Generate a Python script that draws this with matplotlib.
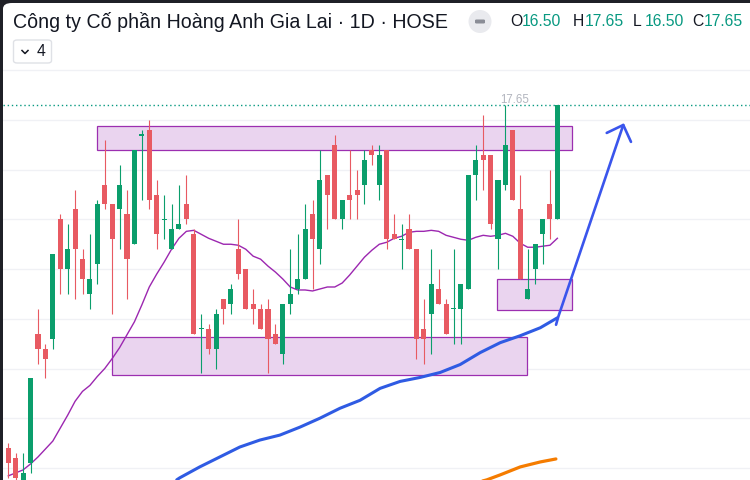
"""
Candlestick chart: Công ty Cổ phần Hoàng Anh Gia Lai (HAG), daily, with
moving averages and drawn support / resistance zones.
"""
import numpy as np
import matplotlib
matplotlib.use('Agg')
import matplotlib.pyplot as plt
from matplotlib.patches import Rectangle, FancyBboxPatch, Ellipse

plt.rcParams['font.family'] = ['Liberation Sans', 'DejaVu Sans']

# ====== Data (prices, 1D candles) ======
OPENS = [14.20, 14.10, 13.85, 14.05, 15.35, 15.20, 15.30, 16.50, 16.00, 16.60,
         16.10, 15.75, 16.05, 16.85, 16.65, 16.60, 16.55, 16.25, 17.35, 17.40,
         16.75, 16.50, 16.20, 16.40, 16.65, 16.35, 15.40, 15.40, 15.20, 15.70,
         15.65, 16.20, 16.00, 15.65, 15.60, 15.60, 15.35, 15.15, 15.65, 15.80,
         15.90, 16.55, 16.20, 16.95, 17.25, 16.50, 16.75, 16.80, 16.85, 17.20,
         16.85, 17.20, 16.35, 16.30, 16.40, 16.20, 15.40, 15.55, 15.80, 15.65,
         15.60, 15.60, 15.80, 16.95, 17.15, 17.15, 16.30, 16.85, 17.40, 16.60,
         15.70, 16.00, 16.35, 16.65, 16.50]
HIGHS = [14.25, 14.15, 14.15, 14.90, 15.60, 15.25, 16.15, 16.55, 16.45, 16.80,
         16.20, 16.35, 16.70, 17.30, 16.65, 17.05, 16.80, 17.20, 17.40, 17.50,
         16.90, 16.75, 16.65, 16.85, 16.95, 16.40, 15.55, 15.45, 15.60, 15.70,
         15.85, 16.50, 16.00, 15.80, 15.65, 15.70, 15.45, 15.65, 16.20, 16.35,
         16.65, 16.70, 17.20, 16.95, 17.35, 16.70, 17.20, 17.00, 17.20, 17.25,
         17.25, 17.20, 16.55, 16.45, 16.55, 16.20, 15.70, 16.20, 16.00, 15.70,
         16.20, 15.85, 16.95, 17.25, 17.55, 17.15, 16.90, 17.65, 17.40, 16.95,
         16.20, 16.25, 16.50, 17.00, 17.65]
LOWS = [13.90, 13.85, 13.80, 13.95, 15.05, 14.90, 15.20, 15.75, 15.75, 15.70,
        15.75, 15.60, 15.85, 16.60, 15.55, 16.20, 15.70, 16.25, 16.70, 16.60,
        16.20, 16.30, 16.20, 16.40, 16.45, 15.35, 14.95, 15.15, 15.00, 15.45,
        15.55, 15.90, 15.60, 15.45, 15.40, 14.95, 15.25, 15.05, 15.55, 15.75,
        15.90, 15.80, 16.05, 16.40, 16.50, 16.40, 16.50, 16.50, 16.65, 17.05,
        16.70, 16.20, 16.30, 16.00, 16.20, 15.10, 15.05, 15.15, 15.65, 15.35,
        15.25, 15.25, 15.80, 16.70, 16.80, 16.40, 16.00, 16.80, 16.70, 15.90,
        15.70, 15.85, 16.05, 16.30, 16.50]
CLOSES = [14.05, 13.90, 13.95, 14.90, 15.20, 15.10, 16.15, 16.00, 16.20, 16.20,
          15.90, 15.90, 16.65, 16.65, 16.30, 16.85, 16.10, 17.20, 17.35, 16.70,
          16.35, 16.50, 16.40, 16.45, 16.50, 15.35, 15.40, 15.20, 15.55, 15.60,
          15.80, 15.95, 15.60, 15.60, 15.40, 15.30, 15.25, 15.65, 15.75, 15.90,
          16.40, 16.30, 16.90, 16.75, 16.50, 16.70, 16.70, 16.75, 17.10, 17.15,
          17.15, 16.30, 16.30, 16.30, 16.20, 15.30, 15.30, 15.85, 15.65, 15.35,
          15.60, 15.85, 16.95, 17.10, 17.10, 16.45, 16.90, 17.25, 16.70, 15.90,
          15.80, 16.25, 16.50, 16.50, 17.65]

# short moving average (purple), one value per candle
MA_SHORT = [13.92, 13.95, 13.98, 14.04, 14.11, 14.19, 14.27, 14.40, 14.53, 14.67,
            14.77, 14.83, 14.92, 15.00, 15.10, 15.21, 15.34, 15.47, 15.64, 15.82,
            15.95, 16.07, 16.20, 16.31, 16.38, 16.39, 16.35, 16.31, 16.28, 16.25,
            16.25, 16.24, 16.20, 16.13, 16.10, 16.03, 15.97, 15.90, 15.82, 15.79,
            15.79, 15.78, 15.80, 15.82, 15.82, 15.86, 15.94, 16.03, 16.12, 16.19,
            16.25, 16.27, 16.31, 16.33, 16.37, 16.38, 16.38, 16.39, 16.38, 16.34,
            16.32, 16.30, 16.29, 16.32, 16.34, 16.33, 16.34, 16.36, 16.33, 16.26,
            16.22, 16.22, 16.23, 16.24, 16.31]

# longer moving averages, read at a few points along the line
MA_MID_X = [22.7, 23.1, 25.8, 28.5, 31.2, 33.9, 36.6, 39.3, 42.0, 44.7,
            47.4, 50.1, 52.8, 55.5, 58.2, 60.9, 63.6, 66.3, 69.0, 71.7, 74.0]
MA_MID_Y = [13.88, 13.90, 14.01, 14.11, 14.21, 14.28, 14.33, 14.41, 14.50, 14.60,
            14.68, 14.80, 14.87, 14.91, 14.96, 15.04, 15.16, 15.26, 15.33, 15.41, 15.51]
MA_LONG_X = [63.5, 64.5, 66.3, 69.0, 71.7, 73.8]
MA_LONG_Y = [13.86, 13.88, 13.93, 14.01, 14.06, 14.09]

LAST_HIGH = 17.65

# drawn zones: (x0, x1, y0, y1) in candle index / price
ZONES = [(12.0, 76.0, 17.195, 17.44),
         (14.0, 69.95, 14.935, 15.32),
         (65.9, 76.0, 15.59, 15.90)]

# drawn arrow path
ARROW_X = [73.82, 74.12, 82.88]
ARROW_Y = [15.44, 15.52, 17.45]
HEAD_X = [80.65, 82.88, 83.92]
HEAD_Y = [17.37, 17.45, 17.28]

UP = '#0b9e6c'
DOWN = '#e85a62'

W, H = 750, 480
fig = plt.figure(figsize=(W / 100, H / 100), dpi=100)
fig.patch.set_facecolor('#1f2027')
fig.patches.append(FancyBboxPatch((3 / W, -0.05), 1.05, 1.05 - 3 / H,
                                  boxstyle='round,pad=0,rounding_size=0.012',
                                  transform=fig.transFigure, facecolor='white',
                                  edgecolor='none', zorder=-5))

ax = fig.add_axes([3 / W, 0, (W - 3) / W, (H - 3) / H])
ax.set_zorder(2)
ax.set_facecolor('none')
ax.set_xlim((3 - 8.3) / 7.42, (750 - 8.3) / 7.42)
ax.set_ylim(17.5 - 360 / 99.4, 17.5 + 117 / 99.4)
for s in ax.spines.values():
    s.set_visible(False)
ax.set_xticks([])
ax.set_yticks([])

for lvl in np.arange(14.0, 18.01, 0.5):
    ax.axhline(lvl, color='#f0f1f5', lw=1, zorder=0)

# zones
for x0, x1, y0, y1 in ZONES:
    ax.add_patch(Rectangle((x0, y0), x1 - x0, y1 - y0, facecolor='#ead4ef',
                           edgecolor='#9c2fb0', lw=0.9, zorder=1))

# moving averages
idx = np.arange(len(OPENS))
ax.plot(idx, MA_SHORT, color='#9c27b0', lw=1.0, zorder=3)
ax.plot(MA_MID_X, MA_MID_Y, color='#2f5be3', lw=2.2, zorder=3,
        solid_capstyle='round')
ax.plot(MA_LONG_X, MA_LONG_Y, color='#f57c00', lw=2.3, zorder=3,
        solid_capstyle='round')

# candles
o = np.array(OPENS); c = np.array(CLOSES)
colors = [UP if cc >= oo else DOWN for oo, cc in zip(o, c)]
ax.vlines(idx, LOWS, HIGHS, colors=colors, lw=0.8, zorder=4)
flat = np.abs(c - o) < 0.012
body_lo = np.minimum(o, c) - np.where(flat, 0.006, 0)
body_h = np.maximum(np.abs(c - o), 0.012)
ax.bar(idx, body_h, bottom=body_lo, width=0.68, color=colors, linewidth=0, zorder=5)

# last-price dotted line and high label
ax.axhline(LAST_HIGH, color='#089981', lw=1, ls=(0, (1, 2)), zorder=2)
ax.text(68.2, LAST_HIGH - 0.01, f"{LAST_HIGH:.2f}", color='#b2b5be',
        fontsize=8.3, ha='center', va='bottom', zorder=6)

# hand drawn arrow
ax.plot(ARROW_X, ARROW_Y, color='#3a55ec', lw=1.9, zorder=6,
        solid_capstyle='round', solid_joinstyle='round')
ax.plot(HEAD_X, HEAD_Y, color='#3a55ec', lw=1.9, zorder=6,
        solid_capstyle='round', solid_joinstyle='round')

# ====== Header ======
def fy(py):
    return 1 - py / H

fig.text(13 / W, fy(22), "Công ty Cố phần Hoàng Anh Gia Lai · 1D · HOSE",
         fontsize=14.1, color='#131722', va='center', ha='left', zorder=5)

fig.patches.append(Ellipse((480 / W, fy(21.5)), 23 / W, 23 / H, transform=fig.transFigure,
                           facecolor='#e9eaee', edgecolor='none', zorder=5))
fig.patches.append(FancyBboxPatch((475 / W, fy(23.5)), 10 / W, 4 / H,
                                  boxstyle='round,pad=0,rounding_size=0.002',
                                  transform=fig.transFigure,
                                  facecolor='#8a8d96', edgecolor='none', zorder=6))

ohlc = [('O', OPENS[-1], 510), ('H', HIGHS[-1], 573),
        ('L', LOWS[-1], 633), ('C', CLOSES[-1], 692)]
for lab, val, px in ohlc:
    fig.text(px / W, fy(22), lab, fontsize=11.3, color='#131722', va='center', zorder=5)
    fig.text((px + 11.5) / W, fy(22), f"{val:.2f}", fontsize=11.3,
             color='#089981', va='center', zorder=5)

# collapsed indicators pill
fig.patches.append(FancyBboxPatch((13.5 / W, fy(63)), 38 / W, 23 / H,
                                  boxstyle='round,pad=0,rounding_size=0.005',
                                  transform=fig.transFigure, facecolor='white',
                                  edgecolor='#dfe1e6', lw=1, zorder=5))
fig.lines.append(plt.Line2D([22 / W, 25 / W, 28 / W], [fy(50.5), fy(53.5), fy(50.5)],
                            transform=fig.transFigure, color='#131722', lw=1.1, zorder=6))
fig.text(41.5 / W, fy(52), "4", fontsize=11.3, color='#131722', va='center',
         ha='center', zorder=6)

fig.savefig('out.png', dpi=100)
